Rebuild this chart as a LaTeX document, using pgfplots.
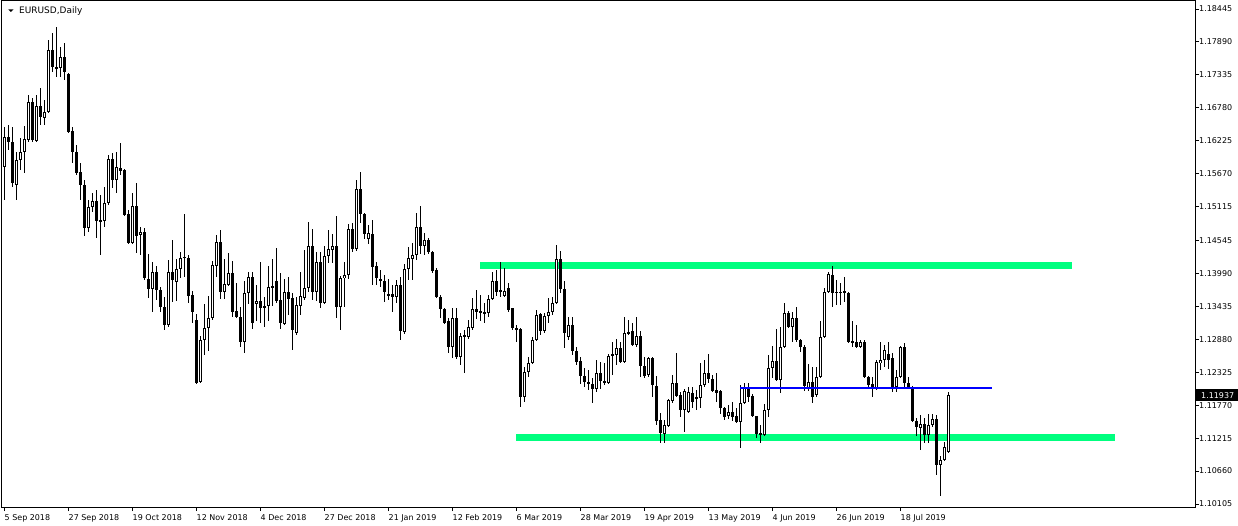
\documentclass[border=0pt]{standalone}
\usepackage{fontspec}
\setmainfont{DejaVu Sans}
\usepackage{pgfplots}
\usepackage{pgfplotstable}
\pgfplotsset{compat=1.18}

\definecolor{bandgreen}{RGB}{0,255,127}
\definecolor{levelblue}{RGB}{0,0,255}

% EURUSD daily bars: index, open, high, low, close
\pgfplotstableread{
i o h l c
0 1.1578 1.1646 1.1523 1.1629
1 1.1629 1.1649 1.1607 1.1620
2 1.1620 1.1646 1.1545 1.1551
3 1.1548 1.1604 1.1523 1.1590
4 1.1590 1.1627 1.1573 1.1604
5 1.1604 1.1647 1.1568 1.1626
6 1.1624 1.1700 1.1620 1.1688
7 1.1688 1.1695 1.1620 1.1624
8 1.1622 1.1700 1.1620 1.1681
9 1.1681 1.1711 1.1649 1.1663
10 1.1661 1.1691 1.1649 1.1671
11 1.1671 1.1792 1.1669 1.1776
12 1.1776 1.1804 1.1738 1.1747
13 1.1743 1.1814 1.1730 1.1747
14 1.1745 1.1781 1.1730 1.1764
15 1.1764 1.1787 1.1725 1.1738
16 1.1735 1.1737 1.1636 1.1637
17 1.1639 1.1646 1.1585 1.1604
18 1.1604 1.1615 1.1565 1.1568
19 1.1570 1.1585 1.1523 1.1548
20 1.1548 1.1556 1.1462 1.1476
21 1.1476 1.1523 1.1469 1.1511
22 1.1511 1.1535 1.1503 1.1521
23 1.1521 1.1540 1.1459 1.1487
24 1.1489 1.1531 1.1430 1.1487
25 1.1487 1.1545 1.1477 1.1518
26 1.1518 1.1599 1.1514 1.1592
27 1.1592 1.1602 1.1543 1.1556
28 1.1556 1.1604 1.1535 1.1578
29 1.1577 1.1619 1.1565 1.1572
30 1.1573 1.1575 1.1496 1.1498
31 1.1499 1.1506 1.1449 1.1450
32 1.1450 1.1535 1.1449 1.1513
33 1.1513 1.1551 1.1433 1.1462
34 1.1464 1.1477 1.1430 1.1469
35 1.1469 1.1476 1.1388 1.1391
36 1.1389 1.1432 1.1358 1.1373
37 1.1373 1.1418 1.1334 1.1401
38 1.1401 1.1412 1.1354 1.1371
39 1.1371 1.1376 1.1334 1.1343
40 1.1343 1.1359 1.1304 1.1312
41 1.1312 1.1422 1.1309 1.1401
42 1.1401 1.1455 1.1351 1.1388
43 1.1385 1.1423 1.1353 1.1406
44 1.1406 1.1435 1.1391 1.1425
45 1.1425 1.1499 1.1393 1.1427
46 1.1425 1.1430 1.1349 1.1361
47 1.1363 1.1369 1.1316 1.1334
48 1.1321 1.1331 1.1213 1.1214
49 1.1216 1.1294 1.1214 1.1287
50 1.1287 1.1348 1.1262 1.1307
51 1.1307 1.1361 1.1268 1.1324
52 1.1324 1.1420 1.1321 1.1413
53 1.1412 1.1464 1.1393 1.1452
54 1.1452 1.1472 1.1356 1.1368
55 1.1368 1.1423 1.1356 1.1381
56 1.1380 1.1433 1.1378 1.1400
57 1.1400 1.1420 1.1326 1.1334
58 1.1336 1.1383 1.1324 1.1326
59 1.1326 1.1343 1.1275 1.1284
60 1.1284 1.1386 1.1265 1.1366
61 1.1366 1.1401 1.1348 1.1393
62 1.1393 1.1401 1.1305 1.1316
63 1.1348 1.1380 1.1319 1.1353
64 1.1353 1.1418 1.1316 1.1341
65 1.1341 1.1359 1.1309 1.1344
66 1.1344 1.1412 1.1319 1.1376
67 1.1378 1.1423 1.1344 1.1375
68 1.1386 1.1442 1.1349 1.1353
69 1.1354 1.1400 1.1305 1.1316
70 1.1314 1.1389 1.1312 1.1368
71 1.1368 1.1393 1.1329 1.1356
72 1.1358 1.1366 1.1270 1.1304
73 1.1299 1.1359 1.1295 1.1346
74 1.1344 1.1401 1.1329 1.1361
75 1.1358 1.1439 1.1354 1.1375
76 1.1375 1.1486 1.1368 1.1445
77 1.1445 1.1474 1.1354 1.1368
78 1.1368 1.1435 1.1353 1.1418
79 1.1418 1.1435 1.1341 1.1349
80 1.1349 1.1445 1.1348 1.1428
81 1.1428 1.1472 1.1417 1.1440
82 1.1439 1.1466 1.1417 1.1445
83 1.1445 1.1496 1.1324 1.1343
84 1.1343 1.1395 1.1304 1.1391
85 1.1391 1.1418 1.1343 1.1396
86 1.1396 1.1482 1.1389 1.1474
87 1.1474 1.1484 1.1435 1.1440
88 1.1440 1.1556 1.1437 1.1541
89 1.1541 1.1570 1.1484 1.1499
90 1.1499 1.1501 1.1457 1.1465
91 1.1457 1.1481 1.1449 1.1467
92 1.1465 1.1489 1.1380 1.1410
93 1.1412 1.1418 1.1380 1.1391
94 1.1389 1.1405 1.1376 1.1386
95 1.1386 1.1396 1.1351 1.1368
96 1.1361 1.1389 1.1354 1.1364
97 1.1364 1.1380 1.1334 1.1359
98 1.1359 1.1388 1.1349 1.1380
99 1.1380 1.1393 1.1287 1.1302
100 1.1300 1.1415 1.1297 1.1406
101 1.1406 1.1444 1.1388 1.1425
102 1.1423 1.1450 1.1388 1.1430
103 1.1430 1.1501 1.1422 1.1477
104 1.1477 1.1513 1.1432 1.1445
105 1.1445 1.1467 1.1430 1.1455
106 1.1455 1.1459 1.1432 1.1435
107 1.1435 1.1437 1.1400 1.1403
108 1.1405 1.1408 1.1358 1.1359
109 1.1359 1.1363 1.1324 1.1339
110 1.1339 1.1341 1.1314 1.1316
111 1.1319 1.1324 1.1265 1.1275
112 1.1275 1.1341 1.1257 1.1324
113 1.1324 1.1341 1.1255 1.1258
114 1.1258 1.1299 1.1245 1.1294
115 1.1295 1.1303 1.1231 1.1292
116 1.1292 1.1321 1.1289 1.1309
117 1.1307 1.1358 1.1304 1.1339
118 1.1339 1.1371 1.1322 1.1334
119 1.1336 1.1363 1.1319 1.1332
120 1.1332 1.1349 1.1316 1.1334
121 1.1332 1.1363 1.1326 1.1356
122 1.1356 1.1401 1.1354 1.1386
123 1.1386 1.1405 1.1361 1.1368
124 1.1371 1.1418 1.1359 1.1368
125 1.1361 1.1408 1.1359 1.1369
126 1.1375 1.1383 1.1334 1.1337
127 1.1341 1.1341 1.1304 1.1307
128 1.1307 1.1312 1.1284 1.1304
129 1.1305 1.1307 1.1174 1.1191
130 1.1191 1.1241 1.1182 1.1233
131 1.1233 1.1258 1.1225 1.1248
132 1.1248 1.1292 1.1247 1.1287
133 1.1287 1.1337 1.1285 1.1329
134 1.1331 1.1332 1.1295 1.1302
135 1.1302 1.1332 1.1299 1.1327
136 1.1327 1.1358 1.1316 1.1334
137 1.1334 1.1359 1.1329 1.1349
138 1.1349 1.1447 1.1348 1.1423
139 1.1423 1.1437 1.1366 1.1373
140 1.1373 1.1386 1.1273 1.1299
141 1.1292 1.1326 1.1287 1.1312
142 1.1312 1.1326 1.1262 1.1268
143 1.1268 1.1275 1.1245 1.1250
144 1.1251 1.1258 1.1213 1.1226
145 1.1226 1.1240 1.1208 1.1216
146 1.1216 1.1236 1.1203 1.1213
147 1.1213 1.1223 1.1180 1.1204
148 1.1204 1.1253 1.1199 1.1231
149 1.1231 1.1250 1.1204 1.1218
150 1.1216 1.1248 1.1211 1.1218
151 1.1215 1.1263 1.1213 1.1260
152 1.1260 1.1284 1.1228 1.1263
153 1.1262 1.1289 1.1245 1.1273
154 1.1273 1.1284 1.1248 1.1250
155 1.1250 1.1326 1.1249 1.1299
156 1.1300 1.1321 1.1295 1.1299
157 1.1302 1.1316 1.1277 1.1278
158 1.1278 1.1326 1.1275 1.1294
159 1.1294 1.1302 1.1225 1.1243
160 1.1243 1.1258 1.1223 1.1226
161 1.1228 1.1258 1.1225 1.1257
162 1.1257 1.1258 1.1191 1.1211
163 1.1209 1.1226 1.1144 1.1150
164 1.1152 1.1164 1.1113 1.1130
165 1.1128 1.1152 1.1113 1.1144
166 1.1142 1.1188 1.1140 1.1186
167 1.1184 1.1228 1.1180 1.1215
168 1.1215 1.1265 1.1191 1.1193
169 1.1194 1.1199 1.1157 1.1169
170 1.1169 1.1204 1.1132 1.1201
171 1.1166 1.1208 1.1164 1.1199
172 1.1198 1.1208 1.1172 1.1182
173 1.1191 1.1203 1.1169 1.1189
174 1.1189 1.1248 1.1172 1.1211
175 1.1211 1.1253 1.1208 1.1231
176 1.1231 1.1263 1.1214 1.1221
177 1.1221 1.1228 1.1199 1.1201
178 1.1203 1.1231 1.1182 1.1198
179 1.1201 1.1203 1.1162 1.1172
180 1.1172 1.1174 1.1152 1.1157
181 1.1159 1.1177 1.1154 1.1166
182 1.1166 1.1182 1.1150 1.1157
183 1.1159 1.1172 1.1147 1.1149
184 1.1149 1.1211 1.1105 1.1180
185 1.1180 1.1214 1.1179 1.1206
186 1.1206 1.1214 1.1182 1.1191
187 1.1193 1.1196 1.1157 1.1159
188 1.1159 1.1159 1.1122 1.1128
189 1.1130 1.1144 1.1113 1.1127
190 1.1127 1.1179 1.1125 1.1169
191 1.1169 1.1262 1.1157 1.1240
192 1.1240 1.1277 1.1223 1.1251
193 1.1251 1.1305 1.1218 1.1220
194 1.1220 1.1309 1.1198 1.1275
195 1.1275 1.1349 1.1273 1.1332
196 1.1332 1.1336 1.1307 1.1309
197 1.1309 1.1334 1.1284 1.1324
198 1.1324 1.1343 1.1284 1.1287
199 1.1287 1.1289 1.1267 1.1275
200 1.1275 1.1278 1.1201 1.1209
201 1.1206 1.1246 1.1201 1.1216
202 1.1216 1.1241 1.1180 1.1191
203 1.1194 1.1241 1.1191 1.1225
204 1.1225 1.1319 1.1223 1.1292
205 1.1292 1.1375 1.1290 1.1368
206 1.1368 1.1401 1.1366 1.1398
207 1.1396 1.1412 1.1343 1.1366
208 1.1368 1.1388 1.1346 1.1366
209 1.1366 1.1383 1.1346 1.1368
210 1.1369 1.1393 1.1351 1.1366
211 1.1366 1.1368 1.1282 1.1284
212 1.1285 1.1319 1.1275 1.1282
213 1.1284 1.1312 1.1273 1.1275
214 1.1275 1.1287 1.1273 1.1284
215 1.1284 1.1287 1.1223 1.1225
216 1.1225 1.1226 1.1206 1.1211
217 1.1213 1.1225 1.1191 1.1206
218 1.1206 1.1253 1.1203 1.1250
219 1.1248 1.1284 1.1236 1.1253
220 1.1253 1.1278 1.1241 1.1270
221 1.1263 1.1284 1.1238 1.1253
222 1.1256 1.1265 1.1199 1.1208
223 1.1208 1.1236 1.1199 1.1225
224 1.1225 1.1277 1.1223 1.1275
225 1.1275 1.1282 1.1206 1.1214
226 1.1214 1.1225 1.1206 1.1208
227 1.1208 1.1209 1.1149 1.1150
228 1.1150 1.1155 1.1125 1.1140
229 1.1139 1.1160 1.1101 1.1145
230 1.1145 1.1155 1.1113 1.1127
231 1.1127 1.1162 1.1113 1.1144
232 1.1144 1.1162 1.1140 1.1154
233 1.1154 1.1160 1.1059 1.1076
234 1.1076 1.1091 1.1024 1.1085
235 1.1085 1.1115 1.1083 1.1107
236 1.1098 1.1199 1.1097 1.11937
}\candles

\begin{document}
\begin{tikzpicture}
\path[use as bounding box] (-1bp,-19bp) rectangle (1237bp,507bp);
\begin{axis}[
  at={(0,0)}, anchor=south west,
  scale only axis, width=1194bp, height=506bp,
  xmin=-0.875, xmax=297.625, ymin=1.10055, ymax=1.18580,
  clip=false,
  axis line style={black, line width=1bp},
  tick align=outside, major tick length=4bp,
  tick style={black, line width=1bp},
  xtick pos=left, ytick pos=right, yticklabel pos=right,
  xtick={0,16,...,224},
  xticklabels={5 Sep 2018, 27 Sep 2018, 19 Oct 2018, 12 Nov 2018, 4 Dec 2018,
    27 Dec 2018, 21 Jan 2019, 12 Feb 2019, 6 Mar 2019, 28 Mar 2019,
    19 Apr 2019, 13 May 2019, 4 Jun 2019, 26 Jun 2019, 18 Jul 2019},
  ytick={1.10105,1.10660,1.11215,1.11770,1.12325,1.12880,1.13435,1.13990,
    1.14545,1.15115,1.15670,1.16225,1.16780,1.17335,1.17890,1.18445},
  yticklabels={1.10105,1.10660,1.11215,1.11770,1.12325,1.12880,1.13435,1.13990,
    1.14545,1.15115,1.15670,1.16225,1.16780,1.17335,1.17890,1.18445},
  tick label style={font=\fontsize{8}{9.6}\selectfont, text=black},
  xticklabel style={anchor=north west, inner sep=0pt, yshift=-3bp},
  yticklabel style={anchor=west, inner sep=0pt},
  candle/.style={draw=none, mark=none,
    error bars/y dir=both, error bars/y explicit, error bars/error mark=none,
    error bars/error bar style={#1}},
]
% support and resistance zones
\addplot[fill=bandgreen, draw=none] coordinates
  {(118.9,1.14070) (266.9,1.14070) (266.9,1.14183) (118.9,1.14183)};
\addplot[fill=bandgreen, draw=none] coordinates
  {(127.9,1.11172) (277.6,1.11172) (277.6,1.11285) (127.9,1.11285)};

% wicks: low to high
\addplot[candle={draw=black, line width=1bp}]
  table[x=i, y expr={(\thisrow{h}+\thisrow{l})/2},
        y error expr={(\thisrow{h}-\thisrow{l})/2}] {\candles};
% bodies: open to close
\addplot[candle={draw=black, line width=3bp}]
  table[x=i, y expr={(\thisrow{o}+\thisrow{c})/2},
        y error expr={max(abs(\thisrow{c}-\thisrow{o})/2,0.000085)}] {\candles};
% hollow interior of rising bars
\addplot[candle={draw=white, line width=1bp}, restrict y to domain=1.05:1.25]
  table[x=i, y expr={\thisrow{c}-\thisrow{o}>0.00045 ? (\thisrow{o}+\thisrow{c})/2 : 0},
        y error expr={(\thisrow{c}-\thisrow{o})/2-0.000168}] {\candles};

% horizontal level
\addplot[levelblue, line width=2bp] coordinates {(183.9,1.12052) (246.9,1.12052)};

\coordinate (cur) at (axis cs:297.625,1.11937);
\end{axis}
% current price tag
\fill[black] ([xshift=1bp,yshift=-6bp]cur) rectangle ([xshift=43bp,yshift=6bp]cur);
\node[anchor=west, inner sep=0pt, text=white, font=\fontsize{8}{9.6}\selectfont] at ([xshift=6bp]cur) {1.11937};
% chart caption
\fill[black] (7.3bp,497.7bp) -- (12.5bp,497.7bp) -- (9.9bp,495bp) -- cycle;
\node[anchor=base west, inner sep=0pt, font=\fontsize{9}{10.8}\selectfont] at (18bp,493.5bp) {EURUSD,Daily};
\end{tikzpicture}
\end{document}
